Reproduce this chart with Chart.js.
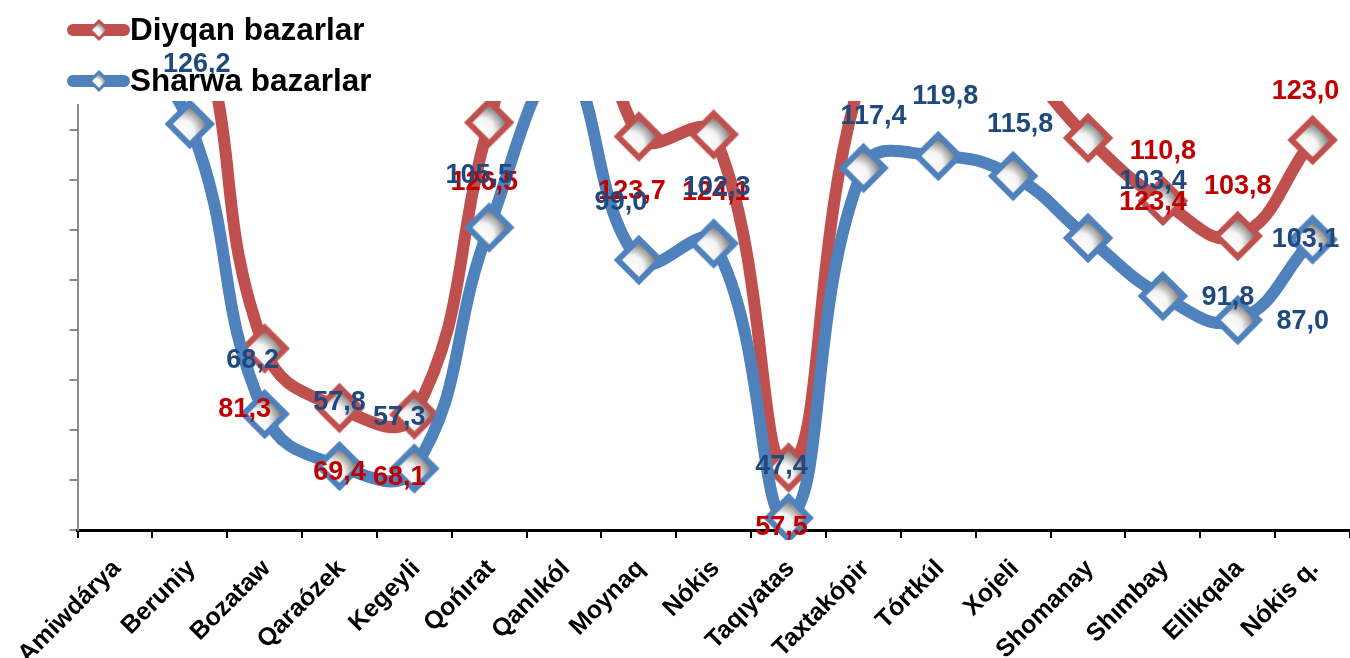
<!DOCTYPE html>
<html>
<head>
<meta charset="utf-8">
<title>Diyqan hám Sharwa bazarlar</title>
<script src="https://cdn.jsdelivr.net/npm/chart.js"></script>
<style>
  html, body { margin: 0; padding: 0; background: #fff; overflow: hidden; }
  #wrap { width: 1350px; height: 658px; }
</style>
</head>
<body>
<div id="wrap"><canvas id="chart"></canvas></div>
<script>
const categories = ['Amiwdárya', 'Beruniy', 'Bozataw', 'Qaraózek', 'Kegeyli', 'Qońırat', 'Qanlıkól',
  'Moynaq', 'Nókis', 'Taqıyatas', 'Taxtakópir', 'Tórtkúl', 'Xojeli', 'Shomanay', 'Shımbay',
  'Ellikqala', 'Nókis q.'];

// values above the axis top are cut off in the original, these are estimates
const diyqanValues = [155, 150, 81.3, 69.4, 68.1, 126.5, 175, 123.7, 124.1, 57.5, 137, 152, 140, 123.4, 110.8, 103.8, 123.0];
const sharwaValues = [145, 126.2, 68.2, 57.8, 57.3, 105.5, 137, 99.0, 102.3, 47.4, 117.4, 119.8, 115.8, 103.4, 91.8, 87.0, 103.1];

const yTicks = [45, 55, 65, 75, 85, 95, 105, 115, 125];
const yMin = 45;
const yMax = 130;

// where each value label sits relative to its marker (px)
const diyqanLabelShift = [[0, 60], [0, 60], [-20, 61], [0, 65], [-15, 63], [-5, 60], [0, 60], [-7, 55], [2, 58],
  [-7, 60], [0, 60], [0, 60], [0, 60], [65, 65], [0, -49], [0, -49], [-7, -48]];
const sharwaLabelShift = [[0, -55], [7, -59], [-12, -53], [0, -63], [-15, -51], [-10, -52], [0, -55], [-18, -57], [3, -56],
  [-7, -51], [10, -51], [7, -59], [7, -51], [65, -56], [65, 2], [65, 2], [-7, 0]];

const RED = '#C0504D';
const BLUE = '#4F81BD';
const RED_TEXT = '#C00000';
const BLUE_TEXT = '#1F497D';
const FONT = '"Liberation Sans", Arial, sans-serif';

function makeMarker(color, r, bw) {
  const s = Math.ceil(2 * (r + bw));
  const c = document.createElement('canvas');
  c.width = s; c.height = s;
  const g = c.getContext('2d');
  const m = s / 2;
  g.beginPath();
  g.moveTo(m, m - r);
  g.lineTo(m + r, m);
  g.lineTo(m, m + r);
  g.lineTo(m - r, m);
  g.closePath();
  const grad = g.createRadialGradient(m - r * 0.35, m + r * 0.35, 0, m - r * 0.35, m + r * 0.35, r * 1.25);
  grad.addColorStop(0, '#ffffff');
  grad.addColorStop(0.45, '#f4f4f4');
  grad.addColorStop(1, '#6e6e6e');
  g.fillStyle = grad;
  g.fill();
  g.lineWidth = bw;
  g.lineJoin = 'miter';
  g.strokeStyle = color;
  g.stroke();
  return c;
}

const redMarker = makeMarker(RED, 21, 6);
const blueMarker = makeMarker(BLUE, 21, 6);
const redLegendMarker = makeMarker(RED, 9, 3);
const blueLegendMarker = makeMarker(BLUE, 9, 3);

function fmt(v) {
  return v.toFixed(1).replace('.', ',');
}

const valueLabels = {
  id: 'valueLabels',
  afterDatasetsDraw(chart) {
    const ctx = chart.ctx;
    const shifts = [diyqanLabelShift, sharwaLabelShift];
    const colors = [RED_TEXT, BLUE_TEXT];
    ctx.save();
    ctx.font = 'bold 27px ' + FONT;
    ctx.textAlign = 'center';
    ctx.textBaseline = 'middle';
    [0, 1].forEach(di => {
      const meta = chart.getDatasetMeta(di);
      const values = chart.data.datasets[di].data;
      ctx.fillStyle = colors[di];
      meta.data.forEach((pt, i) => {
        if (values[i] > yMax) return;
        ctx.fillText(fmt(values[i]), pt.x + shifts[di][i][0], pt.y + shifts[di][i][1]);
      });
    });
    ctx.restore();
  }
};

const legendBox = {
  id: 'legendBox',
  afterDraw(chart) {
    const ctx = chart.ctx;
    const items = [
      { text: 'Diyqan bazarlar', color: RED, marker: redLegendMarker, y: 30 },
      { text: 'Sharwa bazarlar', color: BLUE, marker: blueLegendMarker, y: 81 }
    ];
    ctx.save();
    items.forEach(it => {
      ctx.strokeStyle = it.color;
      ctx.lineWidth = 12;
      ctx.lineCap = 'round';
      ctx.beginPath();
      ctx.moveTo(73, it.y);
      ctx.lineTo(124, it.y);
      ctx.stroke();
      ctx.drawImage(it.marker, 99 - it.marker.width / 2, it.y - it.marker.height / 2);
      ctx.fillStyle = '#000';
      ctx.font = 'bold 31.5px ' + FONT;
      ctx.textAlign = 'left';
      ctx.textBaseline = 'alphabetic';
      ctx.fillText(it.text, 130, it.y + 10);
    });
    ctx.restore();
  }
};

new Chart(document.getElementById('chart'), {
  type: 'line',
  data: {
    labels: categories,
    datasets: [
      {
        label: 'Diyqan bazarlar',
        data: diyqanValues,
        borderColor: RED,
        borderWidth: 12,
        tension: 0.45,
        capBezierPoints: false,
        pointStyle: redMarker,
        pointRadius: 21,
        clip: { left: 10, right: 10, top: 4, bottom: 10 },
        order: 2
      },
      {
        label: 'Sharwa bazarlar',
        data: sharwaValues,
        borderColor: BLUE,
        borderWidth: 12,
        tension: 0.45,
        capBezierPoints: false,
        pointStyle: blueMarker,
        pointRadius: 21,
        clip: { left: 10, right: 10, top: 4, bottom: 10 },
        order: 1
      }
    ]
  },
  options: {
    responsive: true,
    maintainAspectRatio: false,
    animation: false,
    events: [],
    layout: { autoPadding: false, padding: { top: 105, left: 69.5, right: -2, bottom: 0 } },
    plugins: {
      legend: { display: false },
      tooltip: { enabled: false }
    },
    scales: {
      x: {
        offset: true,
        grid: { offset: true, drawOnChartArea: false, color: '#000', lineWidth: 2, tickLength: 8 },
        border: { color: '#000', width: 3 },
        ticks: {
          autoSkip: false,
          maxRotation: 45,
          minRotation: 45,
          padding: 16,
          labelOffset: 2,
          color: '#000',
          font: { family: FONT, size: 25, weight: 'bold' }
        },
        afterFit(scale) {
          scale.height = 128;
          scale.paddingLeft = 0;
          scale.paddingRight = 0;
        }
      },
      y: {
        min: yMin,
        max: yMax,
        grid: { drawOnChartArea: false, color: '#8c8c8c', lineWidth: 2, tickLength: 8 },
        border: { color: '#8c8c8c', width: 2 },
        ticks: { display: false },
        afterBuildTicks(scale) { scale.ticks = yTicks.map(v => ({ value: v })); }
      }
    }
  },
  plugins: [valueLabels, legendBox]
});
</script>
</body>
</html>
